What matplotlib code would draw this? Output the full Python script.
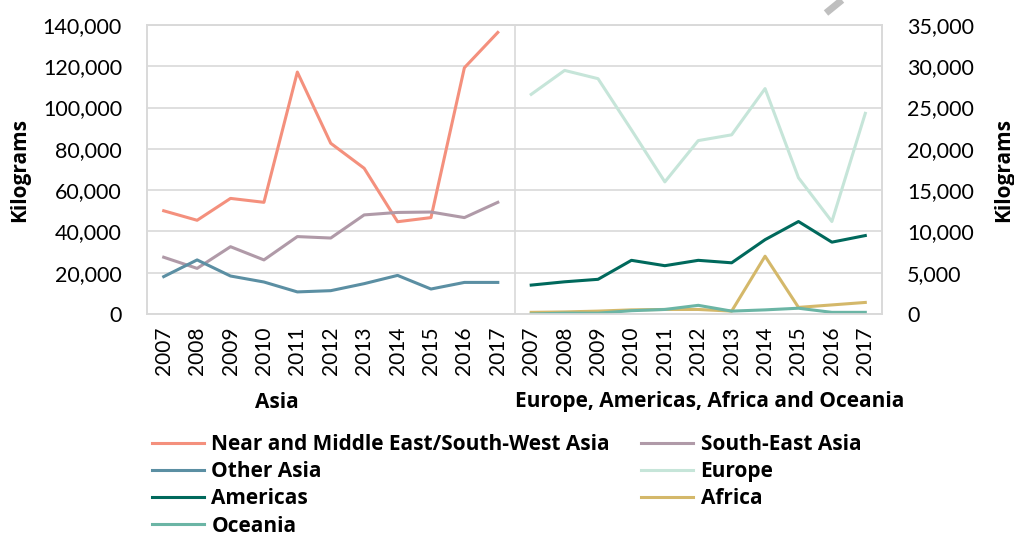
import matplotlib.pyplot as plt
import numpy as np
from matplotlib.ticker import FuncFormatter, MultipleLocator

plt.rcParams['font.family'] = ['Lato', 'DejaVu Sans']
BOLD = ['Open Sans', 'DejaVu Sans']

years = [str(y) for y in range(2007, 2018)]

# Asia (left axis)
near_middle_east = [50000, 45400, 56000, 54100, 117200, 82700, 70600, 44700, 46700, 119300, 136400]
south_east_asia = [27500, 22100, 32600, 26200, 37500, 36800, 48000, 49200, 49400, 46700, 54100]
other_asia = [18100, 26200, 18400, 15500, 10700, 11300, 14700, 18700, 12100, 15300, 15300]

# Europe, Americas, Africa and Oceania (right axis)
europe = [26600, 29500, 28500, 22300, 16000, 21000, 21700, 27300, 16500, 11200, 24300]
americas = [3500, 3900, 4200, 6500, 5850, 6500, 6200, 9000, 11200, 8700, 9500]
africa = [200, 250, 350, 500, 550, 550, 350, 7000, 800, 1100, 1400]
oceania = [0, 100, 100, 400, 550, 1050, 350, 500, 700, 200, 200]

group_labels = ['Asia', 'Europe, Americas, Africa and Oceania']

colors = {
    'near': '#F4907D', 'sea': '#B09AA8', 'other': '#5B8FA3',
    'europe': '#C6E5D9', 'americas': '#00695C', 'africa': '#D4B86A',
    'oceania': '#6BB5A5',
}

fig = plt.figure(figsize=(10.14, 5.35), dpi=100)
ax = fig.add_axes([147 / 1014, 1 - 314 / 535, 735 / 1014, 289 / 535])
ax2 = ax.twinx()

n = len(years)
x_left = np.arange(n)
x_right = np.arange(n, 2 * n)

lw = 2.2
h = {}
h['near'], = ax.plot(x_left, near_middle_east, color=colors['near'], lw=lw,
                     label='Near and Middle East/South-West Asia')
h['sea'], = ax.plot(x_left, south_east_asia, color=colors['sea'], lw=lw, label='South-East Asia')
h['other'], = ax.plot(x_left, other_asia, color=colors['other'], lw=lw, label='Other Asia')
h['europe'], = ax2.plot(x_right, europe, color=colors['europe'], lw=lw, label='Europe')
h['americas'], = ax2.plot(x_right, americas, color=colors['americas'], lw=lw, label='Americas')
h['africa'], = ax2.plot(x_right, africa, color=colors['africa'], lw=lw, label='Africa')
h['oceania'], = ax2.plot(x_right, oceania, color=colors['oceania'], lw=lw, label='Oceania')

ax.set_xlim(-0.5, 2 * n - 0.5)
ax.set_ylim(0, 140000)
ax2.set_ylim(0, 35000)
ax.yaxis.set_major_locator(MultipleLocator(20000))
ax2.yaxis.set_major_locator(MultipleLocator(5000))
fmt = FuncFormatter(lambda v, p: f'{int(v):,}')
ax.yaxis.set_major_formatter(fmt)
ax2.yaxis.set_major_formatter(fmt)

ax.grid(axis='y', color='#D9D9D9', lw=1.2)
ax.set_axisbelow(True)
for a in (ax, ax2):
    for s in a.spines.values():
        s.set_color('#D9D9D9')
        s.set_linewidth(1.2)
    a.tick_params(length=0, labelsize=15.5, pad=18)
ax.axvline(n - 0.5, color='#D9D9D9', lw=1.2)

ax.set_xticks(np.arange(2 * n))
ax.set_xticklabels(years + years, rotation=90, fontsize=15)
ax.tick_params(axis='x', pad=9)

ax.set_ylabel('Kilograms', fontsize=15, fontweight='bold', family=BOLD)
ax.yaxis.set_label_coords(-117 / 735, 0.5)
ax2.set_ylabel('Kilograms', fontsize=15, fontweight='bold', family=BOLD, rotation=90,
               va='center')
ax2.yaxis.set_label_coords(1 + 122 / 735, 0.5)

fig.text(277 / 1014, 1 - 402 / 535, group_labels[0], fontsize=15, fontweight='bold',
         family=BOLD, ha='center', va='center')
fig.text(710 / 1014, 1 - 402 / 535, group_labels[1], fontsize=15, fontweight='bold',
         family=BOLD, ha='center', va='center')

order = ['near', 'other', 'americas', 'oceania', 'sea', 'europe', 'africa']
handles = [h[k] for k in order]
fig.legend(handles, [hh.get_label() for hh in handles], ncol=2, frameon=False,
           loc='upper left', bbox_to_anchor=(152 / 1014, 1 - 434 / 535),
           prop={'size': 15, 'weight': 'bold', 'family': BOLD}, handlelength=2.5,
           handletextpad=0.35, columnspacing=1.5, labelspacing=0.3,
           borderaxespad=0, borderpad=0)

# grey stroke artefact at top right
fig.add_artist(plt.Line2D([826 / 1014, 842 / 1014], [1 - 13 / 535, 1.0],
                          color='#BFBFBF', lw=5, solid_capstyle='butt'))

fig.savefig('out.png', dpi=100)
